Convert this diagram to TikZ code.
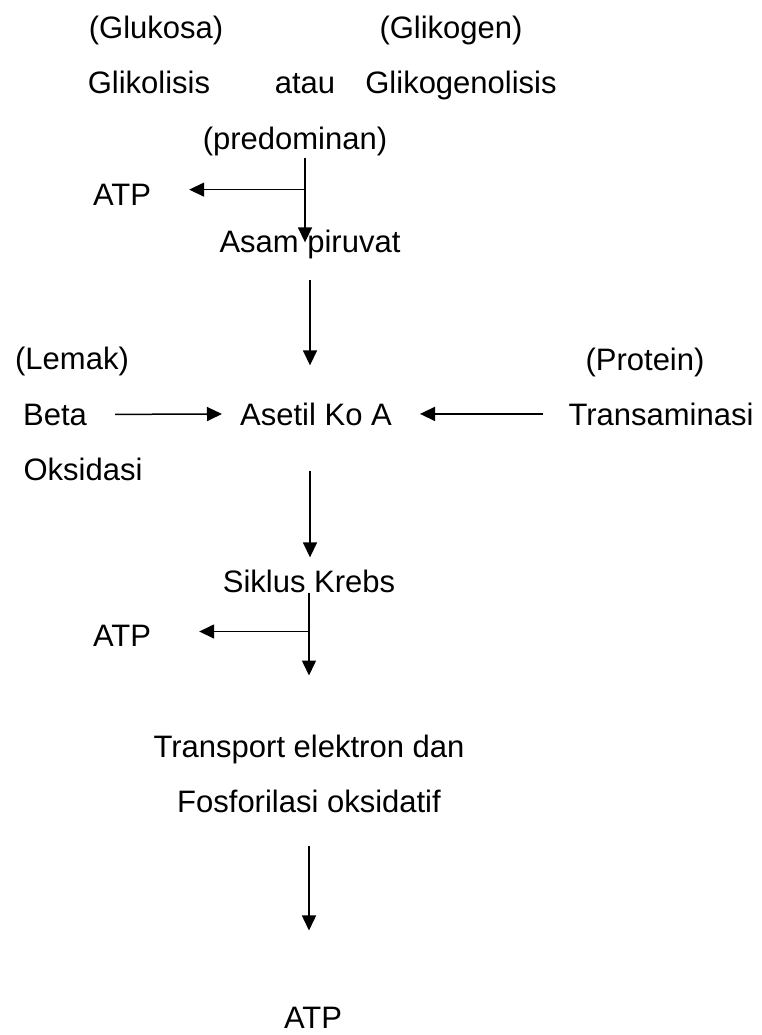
\documentclass[tikz,border=0pt]{standalone}
\usepackage{fontspec}
\setmainfont{Liberation Sans}
\usepackage{tikz}
\usetikzlibrary{arrows.meta,positioning,calc}

\begin{document}
\begin{tikzpicture}[
  x=1pt, y=-1pt,
  txt/.style={anchor=base, inner sep=0pt, font=\fontsize{31}{37}\selectfont},
  arr/.style={-{Triangle[length=15pt, width=14pt]}, line width=1.5pt}
]
  \fill[white] (0,0) rectangle (761,1035);
  \useasboundingbox (0,0) rectangle (761,1035);

  \node[txt] (glu) at (156,39) {(Glukosa)};
  \node[txt] (gln) at (451,39) {(Glikogen)};
  \node[txt] (gli) at (149,94) {Glikolisis};
  \node[txt] (ata) at (305,94) {atau};
  \node[txt] (glg) at (461,94) {Glikogenolisis};
  \node[txt] (pre) at (295,150) {(predominan)};
  \node[txt] (atp1) at (122,205) {ATP};
  \node[txt] (asa) at (310,252) {Asam piruvat};
  \node[txt] (lem) at (72,369) {(Lemak)};
  \node[txt] (pro) at (645,370) {(Protein)};
  \node[txt] (bet) at (55,425) {Beta};
  \node[txt] (ase) at (316,425) {Asetil Ko A};
  \node[txt] (tra) at (661,425) {Transaminasi};
  \node[txt] (oks) at (83,480) {Oksidasi};
  \node[txt] (sik) at (309,592) {Siklus Krebs};
  \node[txt] (atp2) at (122,646) {ATP};
  \node[txt] (trp) at (309,757) {Transport elektron dan};
  \node[txt] (fos) at (309,812) {Fosforilasi oksidatif};
  \node[txt] (atp3) at (313,1028) {ATP};

  \coordinate (j1) at ([xshift=10pt, yshift=-33pt]pre.south);
  \coordinate (k1) at ([yshift=-39pt]sik.south);

  \draw[arr] ([xshift=10pt, yshift=-1pt]pre.south) -- ([xshift=-5pt, yshift=-13pt]asa.north);
  \draw[arr, shorten >=38pt] (j1) -- (j1 -| atp1.east);
  \draw[arr, shorten <=21pt, shorten >=37pt] (asa.south) -- (asa.south |- ase.north);
  \draw[arr, shorten <=28pt, shorten >=18pt] (bet.east) -- (ase.west);
  \draw[arr, shorten <=25pt, shorten >=28pt] (tra.west) -- (ase.east);
  \draw[arr, shorten <=45pt, shorten >=12pt] (asa.south |- ase.south) -- (asa.south |- sik.north);
  \draw[arr] (sik.south) -- ([yshift=-83pt]sik.south);
  \draw[arr, shorten >=48pt] (k1) -- (k1 -| atp2.east);
  \draw[arr, shorten <=33pt, shorten >=76pt] (fos.south) -- (fos.south |- atp3.north);
\end{tikzpicture}
\end{document}
